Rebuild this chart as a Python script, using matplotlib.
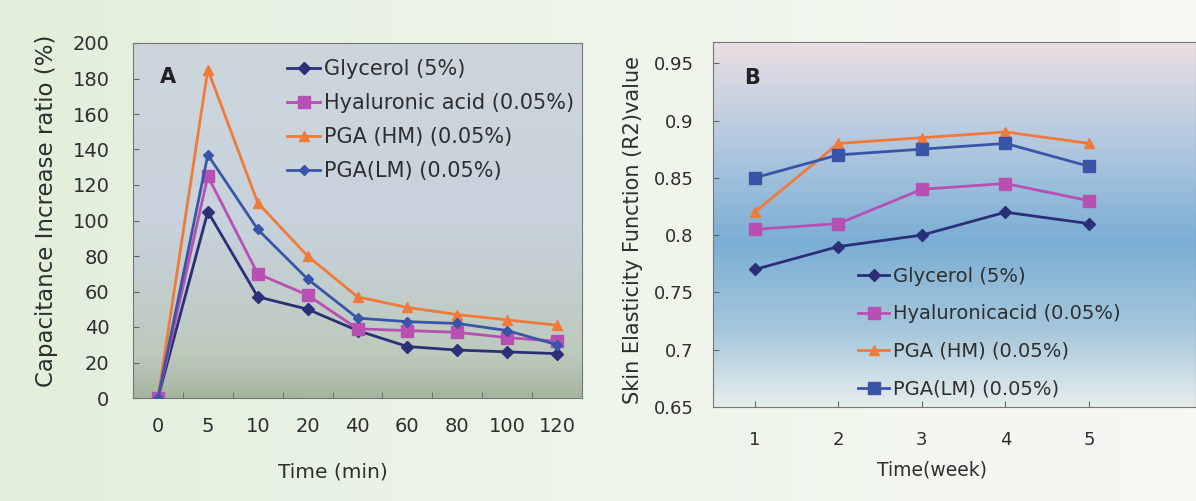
import matplotlib
matplotlib.use("Agg")
import matplotlib.pyplot as plt
import numpy as np
from matplotlib.colors import LinearSegmentedColormap

matplotlib.rcParams["font.family"] = ["DejaVu Sans"]

# panel A data
time_min = ["0", "5", "10", "20", "40", "60", "80", "100", "120"]
glycerol_a = [0, 105, 57, 50, 38, 29, 27, 26, 25]
hyaluronic_a = [0, 125, 70, 58, 39, 38, 37, 34, 32]
pga_hm_a = [0, 185, 110, 80, 57, 51, 47, 44, 41]
pga_lm_a = [0, 137, 95, 67, 45, 43, 42, 38, 30]

# panel B data
weeks = [1, 2, 3, 4, 5]
glycerol_b = [0.77, 0.79, 0.80, 0.82, 0.81]
hyaluronic_b = [0.805, 0.81, 0.84, 0.845, 0.83]
pga_hm_b = [0.82, 0.88, 0.885, 0.89, 0.88]
pga_lm_b = [0.85, 0.87, 0.875, 0.88, 0.86]

names = ["Glycerol (5%)", "Hyaluronic acid (0.05%)", "PGA (HM) (0.05%)", "PGA(LM) (0.05%)"]
names_b = ["Glycerol (5%)", "Hyaluronicacid (0.05%)", "PGA (HM) (0.05%)", "PGA(LM) (0.05%)"]
colors = ["#2b2f78", "#b850b4", "#f07a3a", "#3a55a8"]
text_col = "#2e2e2e"

W, H = 1196, 501
fig = plt.figure(figsize=(W / 100, H / 100), dpi=100)


def gradient(ax, stops, horizontal=False):
    cmap = LinearSegmentedColormap.from_list("g", stops)
    g = np.linspace(0, 1, 256)
    img = g.reshape(1, -1) if horizontal else g.reshape(-1, 1)
    ax.imshow(img, cmap=cmap, aspect="auto", extent=[0, 1, 0, 1], origin="lower",
              transform=ax.transAxes, zorder=0, interpolation="bicubic")


# figure background
bg = fig.add_axes([0, 0, 1, 1])
gradient(bg, [(0, "#e2efda"), (0.5, "#eef5ea"), (1, "#f6f8f3")], horizontal=True)
bg.set_axis_off()

# ---------------- panel A ----------------
axA = fig.add_axes([133 / W, 1 - 398 / H, (582 - 133) / W, (398 - 43) / H])
gradient(axA, [(0, "#a6b59f"), (0.12, "#bccabd"), (0.5, "#c7d2dc"), (1, "#cdd6dc")])
x = np.arange(len(time_min))
markers_a = ["D", "s", "^", "D"]
sizes_a = [6, 8, 7, 5]
for ys, c, m, s, n in zip([glycerol_a, hyaluronic_a, pga_hm_a, pga_lm_a], colors, markers_a, sizes_a, names):
    axA.plot(x, ys, color=c, marker=m, markersize=s, lw=2, label=n, zorder=3)
axA.set_xlim(-0.5, 8.5)
axA.set_ylim(0, 200)
axA.set_yticks(range(0, 201, 20))
axA.set_xticks(x)
axA.set_xticklabels(time_min)
axA.set_xticks(np.arange(0.5, 8, 1), minor=True)
axA.tick_params(axis="x", which="major", length=0, pad=14, labelsize=14, labelcolor=text_col)
axA.tick_params(axis="x", which="minor", direction="in", length=4, color="#666666")
axA.tick_params(axis="y", direction="in", length=4, pad=17, labelsize=14, labelcolor=text_col, color="#666666")
for sp in axA.spines.values():
    sp.set_color("#777777")
axA.text(0.06, 0.905, "A", transform=axA.transAxes, fontsize=15, fontweight="bold", color="#222222", va="center")
axA.legend(loc="upper left", bbox_to_anchor=(287 / W, 1 - 59 / H), bbox_transform=fig.transFigure,
           frameon=False, fontsize=15, labelspacing=0.68, handlelength=1.6, handletextpad=0.2,
           borderpad=0, borderaxespad=0, labelcolor=text_col)
fig.text(333 / W, 1 - 472 / H, "Time (min)", ha="center", va="center", fontsize=14.5, color=text_col)
fig.text(47 / W, 1 - 211 / H, "Capacitance Increase ratio (%)", rotation=90, ha="center", va="center",
         fontsize=16.5, color=text_col)

# ---------------- panel B ----------------
axB = fig.add_axes([713 / W, 1 - 407 / H, (W - 713) / W, (407 - 42) / H])
gradient(axB, [(0, "#e6eeec"), (0.2, "#a8c8dc"), (0.45, "#7aaed4"), (0.75, "#b8cbe0"), (1, "#eadfe2")])
markers_b = ["D", "s", "^", "s"]
sizes_b = [6, 8, 7, 8]
for ys, c, m, s, n in zip([glycerol_b, hyaluronic_b, pga_hm_b, pga_lm_b], colors, markers_b, sizes_b, names_b):
    axB.plot(weeks, ys, color=c, marker=m, markersize=s, lw=2, label=n, zorder=3)
axB.set_xlim(0.5, 6.28)
axB.set_ylim(0.65, 0.9685)
axB.set_xticks(weeks)
axB.set_yticks([0.65, 0.7, 0.75, 0.8, 0.85, 0.9, 0.95])
axB.set_yticklabels(["0.65", "0.7", "0.75", "0.8", "0.85", "0.9", "0.95"])
axB.tick_params(axis="x", direction="in", length=4, pad=17, labelsize=13, labelcolor=text_col, color="#666666")
axB.tick_params(axis="y", direction="in", length=4, pad=14, labelsize=13, labelcolor=text_col, color="#666666")
for sp in axB.spines.values():
    sp.set_color("#777777")
axB.text(0.065, 0.9, "B", transform=axB.transAxes, fontsize=15, fontweight="bold", color="#222222", va="center")
axB.legend(loc="upper left", bbox_to_anchor=(858 / W, 1 - 267 / H), bbox_transform=fig.transFigure,
           frameon=False, fontsize=14, labelspacing=0.95, handlelength=1.6, handletextpad=0.2,
           borderpad=0, borderaxespad=0, labelcolor=text_col)
fig.text(932 / W, 1 - 470 / H, "Time(week)", ha="center", va="center", fontsize=13.5, color=text_col)
fig.text(633 / W, 1 - 230 / H, "Skin Elasticity Function (R2)value", rotation=90, ha="center", va="center",
         fontsize=15, color=text_col)

fig.savefig("out.png", dpi=100)
